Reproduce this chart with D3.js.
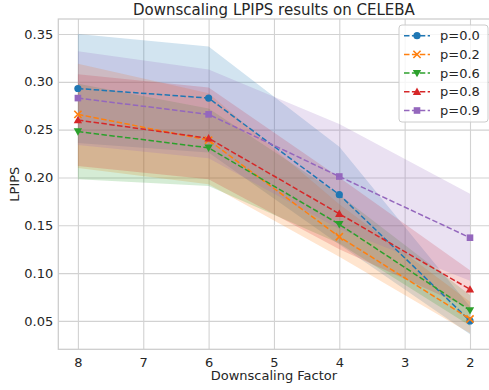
<!DOCTYPE html>
<html>
<head>
<meta charset="utf-8">
<script src="https://cdn.jsdelivr.net/npm/d3@7"></script>
<style>
  html, body { margin: 0; padding: 0; background: #fff; }
  svg { display: block; font-family: "DejaVu Sans", sans-serif; }
</style>
</head>
<body>
<svg id="chart" width="489" height="390"></svg>
<script>
// Downscaling factors on the x axis (drawn right-to-left)
const factors = [8, 6, 4, 2];
const seriesNames = ["p=0.0", "p=0.2", "p=0.6", "p=0.8", "p=0.9"];
const seriesColors = ["#1f77b4", "#ff7f0e", "#2ca02c", "#d62728", "#9467bd"];
const seriesMarkers = ["circle", "cross", "triangleDown", "triangleUp", "square"];

// Mean LPIPS per factor
const meanP00 = [0.293, 0.283, 0.182, 0.050];
const meanP02 = [0.266, 0.239, 0.138, 0.052];
const meanP06 = [0.248, 0.231, 0.151, 0.061];
const meanP08 = [0.260, 0.241, 0.162, 0.083];
const meanP09 = [0.283, 0.266, 0.201, 0.137];

// Upper / lower edge of the spread band
const upperP00 = [0.350, 0.337, 0.232, 0.065];
const lowerP00 = [0.236, 0.226, 0.130, 0.036];
const upperP02 = [0.319, 0.288, 0.172, 0.070];
const lowerP02 = [0.210, 0.193, 0.117, 0.037];
const upperP06 = [0.298, 0.272, 0.182, 0.077];
const lowerP06 = [0.198, 0.191, 0.131, 0.045];
const upperP08 = [0.308, 0.294, 0.200, 0.103];
const lowerP08 = [0.212, 0.198, 0.125, 0.063];
const upperP09 = [0.332, 0.313, 0.256, 0.183];
const lowerP09 = [0.234, 0.220, 0.146, 0.092];

const xTicks = [8, 7, 6, 5, 4, 3, 2];
const yTicks = [0.05, 0.10, 0.15, 0.20, 0.25, 0.30, 0.35];

const means = [meanP00, meanP02, meanP06, meanP08, meanP09];
const uppers = [upperP00, upperP02, upperP06, upperP08, upperP09];
const lowers = [lowerP00, lowerP02, lowerP06, lowerP08, lowerP09];

const series = seriesNames.map((name, i) => ({
  name, color: seriesColors[i], marker: seriesMarkers[i],
  points: factors.map((f, j) => ({ x: f, y: means[i][j], hi: uppers[i][j], lo: lowers[i][j] }))
}));

const svg = d3.select("#chart");
const plot = { left: 58.3, right: 489.6, top: 19, bottom: 349.3 };

// 5% padding around the data extent, like the default axis margins
const allY = uppers.flat().concat(lowers.flat());
const yMin = d3.min(allY), yMax = d3.max(allY);
const yPad = (yMax - yMin) * 0.05;
const x = d3.scaleLinear().domain([8.3, 1.7]).range([plot.left, plot.right]);
const y = d3.scaleLinear().domain([yMin - yPad, yMax + yPad]).range([plot.bottom, plot.top]);

const gridColor = "#d2d2d2";
const textColor = "#262626";

// Grid
const gx = svg.append("g")
  .attr("transform", `translate(0,${plot.bottom})`)
  .call(d3.axisBottom(x).tickValues(xTicks).tickSize(-(plot.bottom - plot.top)).tickPadding(8).tickFormat(d3.format("d")));
const gy = svg.append("g")
  .attr("transform", `translate(${plot.left},0)`)
  .call(d3.axisLeft(y).tickValues(yTicks).tickSize(-(plot.right - plot.left)).tickPadding(5).tickFormat(d3.format(".2f")));
[gx, gy].forEach(g => {
  g.select(".domain").remove();
  g.selectAll(".tick line").attr("stroke", gridColor).attr("stroke-width", 1.1);
  g.selectAll(".tick text").attr("fill", textColor).attr("font-size", 13)
    .attr("font-family", "DejaVu Sans, sans-serif");
});

// Frame
svg.append("rect")
  .attr("x", plot.left).attr("y", plot.top)
  .attr("width", plot.right - plot.left).attr("height", plot.bottom - plot.top)
  .attr("fill", "none").attr("stroke", "#cccccc").attr("stroke-width", 1.25);

const clip = svg.append("clipPath").attr("id", "plotClip").append("rect")
  .attr("x", plot.left).attr("y", plot.top)
  .attr("width", plot.right - plot.left).attr("height", plot.bottom - plot.top);
const body = svg.append("g").attr("clip-path", "url(#plotClip)");

// Bands
const area = d3.area().x(d => x(d.x)).y0(d => y(d.lo)).y1(d => y(d.hi));
body.selectAll("path.band").data(series).join("path")
  .attr("class", "band")
  .attr("d", d => area(d.points))
  .attr("fill", d => d.color).attr("fill-opacity", 0.2).attr("stroke", "none");

// Lines
const line = d3.line().x(d => x(d.x)).y(d => y(d.y));
body.selectAll("path.line").data(series).join("path")
  .attr("class", "line")
  .attr("d", d => line(d.points))
  .attr("fill", "none").attr("stroke", d => d.color)
  .attr("stroke-width", 1.5).attr("stroke-dasharray", "5.5,2.4");

function drawMarker(g, kind, color, cx, cy) {
  if (kind === "circle") {
    g.append("circle").attr("cx", cx).attr("cy", cy).attr("r", 3.6).attr("fill", color);
  } else if (kind === "square") {
    g.append("rect").attr("x", cx - 3.3).attr("y", cy - 3.3).attr("width", 6.6).attr("height", 6.6).attr("fill", color);
  } else if (kind === "triangleUp") {
    g.append("path").attr("d", `M${cx},${cy - 4.2}L${cx + 4.2},${cy + 3.2}L${cx - 4.2},${cy + 3.2}Z`).attr("fill", color);
  } else if (kind === "triangleDown") {
    g.append("path").attr("d", `M${cx},${cy + 4.2}L${cx + 4.2},${cy - 3.2}L${cx - 4.2},${cy - 3.2}Z`).attr("fill", color);
  } else if (kind === "cross") {
    g.append("path").attr("d", `M${cx - 3.6},${cy - 3.6}L${cx + 3.6},${cy + 3.6}M${cx - 3.6},${cy + 3.6}L${cx + 3.6},${cy - 3.6}`)
      .attr("stroke", color).attr("stroke-width", 1.6).attr("fill", "none");
  }
}

// Markers
series.forEach(s => {
  const g = body.append("g");
  s.points.forEach(p => drawMarker(g, s.marker, s.color, x(p.x), y(p.y)));
});

// Title and axis labels
svg.append("text").attr("x", (plot.left + plot.right) / 2).attr("y", 15)
  .attr("text-anchor", "middle").attr("font-size", 15).attr("fill", textColor)
  .text("Downscaling LPIPS results on CELEBA");
svg.append("text").attr("x", (plot.left + plot.right) / 2).attr("y", 380)
  .attr("text-anchor", "middle").attr("font-size", 13).attr("fill", textColor)
  .text("Downscaling Factor");
svg.append("text").attr("transform", `translate(19,${(plot.top + plot.bottom) / 2}) rotate(-90)`)
  .attr("text-anchor", "middle").attr("font-size", 13).attr("fill", textColor)
  .text("LPIPS");

// Legend
const legend = svg.append("g").attr("transform", "translate(399,25)");
legend.append("rect").attr("x", 0).attr("y", 0).attr("width", 89).attr("height", 97).attr("rx", 3)
  .attr("fill", "#fff").attr("fill-opacity", 0.8).attr("stroke", "#cccccc").attr("stroke-width", 1);
series.forEach((s, i) => {
  const cy = 10.7 + i * 18.7;
  const g = legend.append("g");
  g.append("line").attr("x1", 5).attr("x2", 31).attr("y1", cy).attr("y2", cy)
    .attr("stroke", s.color).attr("stroke-width", 1.5).attr("stroke-dasharray", "5.5,2.4");
  drawMarker(g, s.marker, s.color, 18, cy);
  g.append("text").attr("x", 41).attr("y", cy).attr("dy", "0.35em")
    .attr("font-size", 13).attr("fill", textColor).text(s.name);
});
</script>
</body>
</html>
